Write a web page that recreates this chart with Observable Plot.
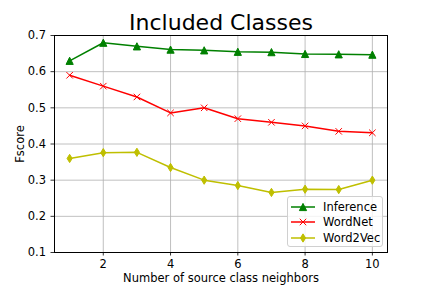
<!DOCTYPE html>
<html>
<head>
<meta charset="utf-8">
<script src="https://cdn.jsdelivr.net/npm/d3@7"></script>
<script src="https://cdn.jsdelivr.net/npm/@observablehq/plot@0.6"></script>
<style>
  html, body { margin: 0; padding: 0; background: #fff; }
  #wrap { position: relative; width: 432px; height: 288px; font-family: "DejaVu Sans", sans-serif; }
  #legend { position: absolute; left: 287px; top: 196px; width: 96px; height: 51px;
            border: 1px solid #d0d0d0; border-radius: 3px; background: rgba(255,255,255,0.8);
            box-sizing: border-box; padding-top: 2px; }
  .row { display: flex; align-items: center; height: 15.5px; font-size: 11.5px; color: #000; }
  .row svg { margin-left: 2px; margin-right: 7px; }
</style>
</head>
<body>
<div id="wrap"></div>
<script>
const neighbors = [1, 2, 3, 4, 5, 6, 7, 8, 9, 10];
const inference = [0.630, 0.680, 0.670, 0.661, 0.659, 0.655, 0.654, 0.649, 0.648, 0.647];
const wordnet   = [0.590, 0.560, 0.530, 0.486, 0.500, 0.470, 0.460, 0.450, 0.435, 0.431];
const word2vec  = [0.360, 0.376, 0.377, 0.335, 0.300, 0.285, 0.266, 0.275, 0.274, 0.300];
const seriesNames = ["Inference", "WordNet", "Word2Vec"];
const seriesColors = ["#008000", "#ff0000", "#bfbf00"];
const xTicks = [2, 4, 6, 8, 10];
const yTicks = [0.1, 0.2, 0.3, 0.4, 0.5, 0.6, 0.7];

const R = 3.6;
const triUp = { draw(ctx, size) { const r = Math.sqrt(size / Math.PI);
  ctx.moveTo(0, -r); ctx.lineTo(r, r); ctx.lineTo(-r, r); ctx.closePath(); } };
const cross = { draw(ctx, size) { const r = Math.sqrt(size / Math.PI) * 0.9;
  ctx.moveTo(-r, -r); ctx.lineTo(r, r); ctx.moveTo(r, -r); ctx.lineTo(-r, r); } };
const thinDiamond = { draw(ctx, size) { const r = Math.sqrt(size / Math.PI) * 1.15;
  ctx.moveTo(0, -r); ctx.lineTo(0.62 * r, 0); ctx.lineTo(0, r); ctx.lineTo(-0.62 * r, 0); ctx.closePath(); } };
const symbols = [triUp, cross, thinDiamond];

const seriesValues = [inference, wordnet, word2vec];
const data = seriesValues.map((vals, i) => neighbors.map((n, j) => ({n, v: vals[j], s: seriesNames[i]})));

const marks = [
  Plot.gridX(xTicks, {stroke: "#b0b0b0", strokeOpacity: 1, strokeWidth: 0.8}),
  Plot.gridY(yTicks, {stroke: "#b0b0b0", strokeOpacity: 1, strokeWidth: 0.8}),
];
data.forEach((d, i) => {
  marks.push(Plot.line(d, {x: "n", y: "v", stroke: seriesColors[i], strokeWidth: 1.5}));
  if (i === 1) {
    marks.push(Plot.dot(d, {x: "n", y: "v", symbol: symbols[i], r: R, stroke: seriesColors[i], fill: "none", strokeWidth: 1}));
  } else {
    marks.push(Plot.dot(d, {x: "n", y: "v", symbol: symbols[i], r: R, fill: seriesColors[i], stroke: seriesColors[i], strokeWidth: 1}));
  }
});
marks.push(
  Plot.frame({stroke: "#000", strokeWidth: 1}),
  Plot.axisX(xTicks, {tickSize: 3.5, tickPadding: 4, fontSize: 11.5, label: null, strokeWidth: 0.8}),
  Plot.axisY(yTicks, {tickSize: 3.5, tickPadding: 5, fontSize: 11.5, label: null, tickFormat: d3.format(".1f"), strokeWidth: 0.8}),
  Plot.text(["Number of source class neighbors"], {frameAnchor: "bottom", lineAnchor: "middle", textAnchor: "middle", dy: 26, fontSize: 11.5, fill: "#000"}),
  Plot.text(["Fscore"], {frameAnchor: "left", lineAnchor: "middle", textAnchor: "middle", dx: -34, rotate: -90, fontSize: 11.5, fill: "#000"}),
  Plot.text(["Included Classes"], {frameAnchor: "top", lineAnchor: "middle", textAnchor: "middle", dy: -13, fontSize: 22, fill: "#000"})
);

const chart = Plot.plot({
  width: 432, height: 288,
  marginTop: 35, marginBottom: 36, marginLeft: 54, marginRight: 45,
  style: {fontFamily: "DejaVu Sans, sans-serif", background: "#fff", color: "#000", overflow: "visible"},
  x: {domain: [0.55, 10.45]},
  y: {domain: [0.1, 0.7]},
  marks
});
const wrap = document.getElementById("wrap");
wrap.appendChild(chart);

// legend
const legend = document.createElement("div");
legend.id = "legend";
seriesNames.forEach((name, i) => {
  const row = document.createElement("div");
  row.className = "row";
  const w = 26, h = 14;
  const svg = d3.create("svg").attr("width", w).attr("height", h);
  svg.append("line").attr("x1", 1).attr("x2", w - 1).attr("y1", h / 2).attr("y2", h / 2)
     .attr("stroke", seriesColors[i]).attr("stroke-width", 1.5);
  const sym = d3.symbol(symbols[i], Math.PI * R * R);
  svg.append("path").attr("d", sym()).attr("transform", `translate(${w / 2},${h / 2})`)
     .attr("fill", i === 1 ? "none" : seriesColors[i]).attr("stroke", seriesColors[i]).attr("stroke-width", 1);
  row.appendChild(svg.node());
  const span = document.createElement("span");
  span.textContent = name;
  row.appendChild(span);
  legend.appendChild(row);
});
wrap.appendChild(legend);
</script>
</body>
</html>
